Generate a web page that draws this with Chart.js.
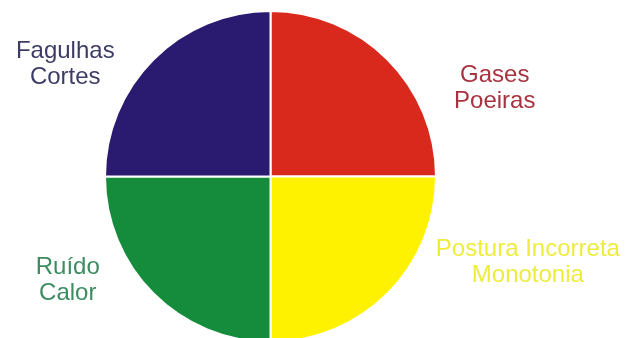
<!DOCTYPE html>
<html lang="pt-br">
<head>
    <meta charset="UTF-8">
    <title>Riscos</title>
    <script src="https://cdn.jsdelivr.net/npm/chart.js"></script>
    <style>
        html, body { margin: 0; padding: 0; background: #fff; overflow: hidden; }
        .graph { width: 629px; height: 343px; position: relative; }
    </style>
</head>
<body>
    <div class="graph">
        <canvas id="graficoPizzaCanvas"></canvas>
    </div>

<script>
    // dados do grafico
    const categorias = [
        ['Gases', 'Poeiras'],
        ['Postura Incorreta', 'Monotonia'],
        ['Ruído', 'Calor'],
        ['Fagulhas', 'Cortes']
    ];
    const valores = [25, 25, 25, 25];
    const cores = ['#d9291d', '#fff200', '#148c3b', '#2a1a70'];
    const coresTexto = ['#a83340', '#eeec3c', '#3c8c62', '#3d3c66'];

    // posicao dos rotulos em relacao ao centro (em raios)
    const posRotulos = [[1.355, -0.53], [1.555, 0.52], [-1.225, 0.63], [-1.24, -0.68]];

    const pluginRotulos = {
        id: 'rotulos',
        afterDatasetsDraw(chart) {
            const ctx = chart.ctx;
            const arcos = chart.getDatasetMeta(0).data;
            ctx.save();
            ctx.font = '24px "Liberation Sans", Arial, sans-serif';
            ctx.textAlign = 'center';
            ctx.textBaseline = 'middle';
            arcos.forEach((arco, i) => {
                const r = arco.outerRadius;
                const x = arco.x + posRotulos[i][0] * r;
                const y = arco.y + posRotulos[i][1] * r;
                const linhas = chart.data.labels[i];
                ctx.fillStyle = coresTexto[i];
                ctx.fillText(linhas[0], x, y - 13);
                ctx.fillText(linhas[1], x, y + 13);
            });
            ctx.restore();
        }
    };

    const config = {
        type: 'pie',
        data: {
            labels: categorias,
            datasets: [{
                data: valores,
                backgroundColor: cores,
                borderColor: '#ffffff',
                borderWidth: 2
            }]
        },
        options: {
            responsive: true,
            maintainAspectRatio: false,
            animation: false,
            layout: { padding: { top: 10, right: 88 } },
            plugins: {
                legend: { display: false },
                tooltip: { enabled: false }
            }
        },
        plugins: [pluginRotulos]
    };

    const ctx = document.getElementById("graficoPizzaCanvas").getContext("2d");
    const graficoPizza = new Chart(ctx, config);
</script>
</body>
</html>
